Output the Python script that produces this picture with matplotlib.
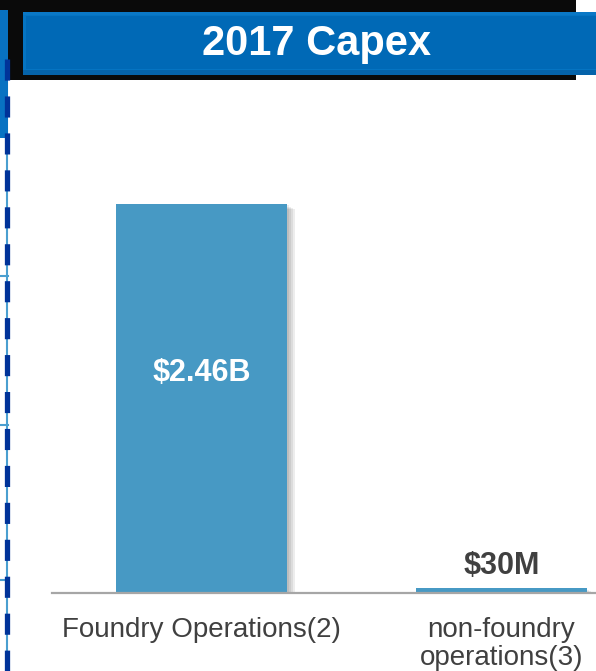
import matplotlib
matplotlib.use("Agg")
import matplotlib.pyplot as plt
from matplotlib.patches import Rectangle
from matplotlib.lines import Line2D
import matplotlib.patheffects as pe
import matplotlib.transforms as mtransforms

# --- data -------------------------------------------------------------
categories = ["Foundry Operations(2)", "non-foundry\noperations(3)"]
capex_musd = [2460, 30]          # capital expenditure, $M
value_labels = ["$2.46B", "$30M"]
title = "2017 Capex"

# --- styling ----------------------------------------------------------
W, H = 596, 671
BAR_COLOR = "#4799C4"
TEXT_GRAY = "#404040"
HEADER_BLUE = "#0069B6"
FONT = "Liberation Sans"

plt.rcParams["font.family"] = [FONT, "DejaVu Sans"]

fig = plt.figure(figsize=(W / 100, H / 100), dpi=100)
fig.patch.set_facecolor("white")


def fx(px):
    return px / W


def fy(py):
    return 1 - py / H


def fig_rect(x0, y0, x1, y1, **kw):
    """Rectangle given in pixel coordinates measured from the top-left."""
    r = Rectangle((fx(x0), fy(y1)), fx(x1) - fx(x0), fy(y0) - fy(y1),
                  transform=fig.transFigure, **kw)
    fig.patches.append(r)
    return r


# --- header band ------------------------------------------------------
fig_rect(0, 0, 576, 80, facecolor="#0a0a0a", edgecolor="none", zorder=1)
fig_rect(0, 10, 8, 138, facecolor="#0872C2", edgecolor="none", zorder=2)
# bevelled blue title box: soft lighter rim, darker lower lip
fig_rect(23, 12, 596, 75, facecolor="#0574C2", edgecolor="none", zorder=2)
fig_rect(23, 70, 596, 75, facecolor="#0563AA", edgecolor="none", zorder=3)
fig_rect(23, 12, 596, 15, facecolor="#0A78C6", edgecolor="none", zorder=3)
fig_rect(26, 16, 596, 69, facecolor=HEADER_BLUE, edgecolor="none", zorder=3)
fig.text(fx(316), fy(55), title, ha="center", va="baseline", color="white",
         fontsize=30, fontweight="bold", zorder=5)

# --- left edge connector lines ---------------------------------------
fig.lines.append(Line2D([fx(7.5), fx(7.5)], [fy(75), fy(671)],
                        transform=fig.transFigure, color="#4A9FD0",
                        linewidth=1.5, zorder=2))
for yy in (276, 425, 580):
    fig.lines.append(Line2D([fx(0), fx(8)], [fy(yy), fy(yy)],
                            transform=fig.transFigure, color="#4A9FD0",
                            linewidth=1.5, zorder=2))
fig.lines.append(Line2D([fx(6.5), fx(6.5)], [fy(59), fy(671)],
                        transform=fig.transFigure, color="#003399",
                        linewidth=3.8, linestyle=(0, (4.0, 3.0)),
                        dash_capstyle="butt", zorder=4))

# --- bar chart --------------------------------------------------------
ax_left, ax_bottom, ax_top = 52, 593, 100
ax = fig.add_axes([fx(ax_left), fy(ax_bottom), 1 - fx(ax_left),
                   fy(ax_top) - fy(ax_bottom)])
ax.set_facecolor("none")

x = list(range(len(categories)))
px_per_cat = 300
ax.set_xlim(-(201.5 - ax_left) / px_per_cat, (W - 201.5) / px_per_cat)
ymax = capex_musd[0] * (ax_bottom - ax_top) / (ax_bottom - 204)
ax.set_ylim(0, ymax)

shadow = [pe.SimplePatchShadow(offset=(d, -0.6 * d), shadow_rgbFace="black",
                               alpha=0.07) for d in (1.5, 3, 4.5, 6)]
bars = ax.bar(x, capex_musd, width=171 / px_per_cat, color=BAR_COLOR,
              edgecolor="none", zorder=3)
for b in bars:
    b.set_path_effects(shadow + [pe.Normal()])

for s in ("top", "right", "left"):
    ax.spines[s].set_visible(False)
ax.spines["bottom"].set_color("#A6A6A6")
ax.spines["bottom"].set_linewidth(1.6)
ax.spines["bottom"].set_zorder(4)
ax.set_yticks([])
ax.set_xticks(x)
ax.set_xticklabels(categories, fontsize=20, color=TEXT_GRAY,
                   linespacing=1.12)
ax.tick_params(axis="x", length=0, pad=17)

# value labels: inside the tall bar, above the short one
blend = mtransforms.blended_transform_factory(ax.transData, fig.transFigure)
ax.text(x[0], fy(381), value_labels[0], transform=blend, ha="center",
        va="baseline", color="white", fontsize=22, fontweight="bold", zorder=5)
ax.text(x[1], fy(574), value_labels[1], transform=blend, ha="center",
        va="baseline", color=TEXT_GRAY, fontsize=22, fontweight="bold", zorder=5)

fig.savefig("out.png", dpi=100)
